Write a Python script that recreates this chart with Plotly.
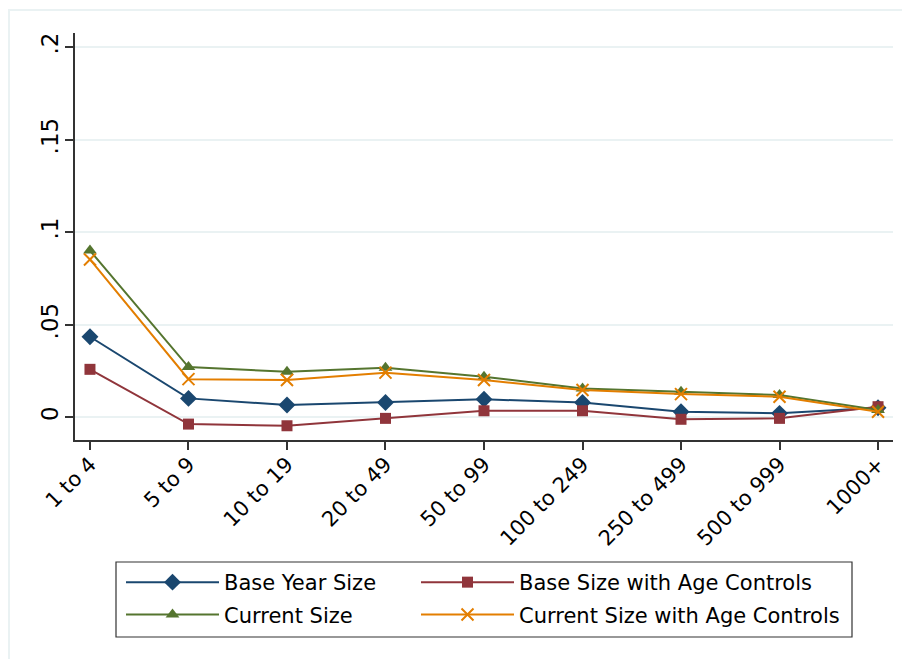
import plotly.graph_objects as go

# Firm size classes (x axis categories)
size_classes = ["1 to 4", "5 to 9", "10 to 19", "20 to 49", "50 to 99",
                "100 to 249", "250 to 499", "500 to 999", "1000+"]

# Estimated coefficients by size class
base_year_size = [0.0434, 0.0101, 0.0065, 0.0079, 0.0096, 0.0079, 0.0029, 0.0020, 0.0050]
base_size_age = [0.0258, -0.0038, -0.0047, -0.0007, 0.0034, 0.0034, -0.0012, -0.0007, 0.0056]
current_size = [0.0900, 0.0270, 0.0245, 0.0267, 0.0218, 0.0155, 0.0137, 0.0119, 0.0038]
current_size_age = [0.0852, 0.0205, 0.0200, 0.0240, 0.0200, 0.0146, 0.0124, 0.0110, 0.0029]

y_tickvals = [0, 0.05, 0.1, 0.15, 0.2]
y_ticktext = ["0", ".05", ".1", ".15", ".2"]

NAVY = "#1a476f"
MAROON = "#90353b"
GREEN = "#55752f"
ORANGE = "#e37e00"
GRID = "#eaf2f3"
AXIS = "#333333"
FONT = "DejaVu Sans, sans-serif"

x = list(range(len(size_classes)))

# (name, values, colour, marker, legend column)
series = [
    ("Base Year Size", base_year_size, NAVY, dict(symbol="diamond", size=13), "legend"),
    ("Base Size with Age Controls", base_size_age, MAROON, dict(symbol="square", size=11), "legend2"),
    ("Current Size", current_size, GREEN, dict(symbol="triangle-up", size=12), "legend"),
    ("Current Size with Age Controls", current_size_age, ORANGE,
     dict(symbol="x-thin", size=12, line=dict(width=2, color=ORANGE)), "legend2"),
]

fig = go.Figure()
for name, vals, color, marker, leg in series:
    fig.add_trace(go.Scatter(
        x=x, y=vals, name=name, mode="lines+markers",
        line=dict(color=color, width=2),
        marker=dict(color=color, **marker),
        legend=leg, legendgroup=name,
    ))

legend_common = dict(
    orientation="v", xanchor="left", y=-122 / 407, yanchor="top",
    borderwidth=0, bgcolor="rgba(0,0,0,0)", font=dict(size=21),
    itemwidth=93, tracegroupgap=2,
)

fig.update_layout(
    width=902, height=659,
    margin=dict(l=75, r=9, t=33, b=219),
    paper_bgcolor="white", plot_bgcolor="white",
    font=dict(family=FONT, size=20, color="black"),
    showlegend=True,
    legend=dict(x=46 / 818, **legend_common),
    legend2=dict(x=341 / 818, **legend_common),
    xaxis=dict(
        range=[-0.152, 8.152], tickmode="array", tickvals=x, ticktext=size_classes,
        tickangle=-45, showgrid=False, zeroline=False, showline=True,
        linecolor=AXIS, linewidth=1.5, ticks="outside", ticklen=8,
        tickcolor=AXIS, tickwidth=1.5, tickfont=dict(size=21), automargin=False,
        ticklabelstandoff=-6,
    ),
    yaxis=dict(
        range=[-0.0124, 0.2076], tickmode="array", tickvals=y_tickvals,
        ticktext=y_ticktext, tickangle=-90, showgrid=True, gridcolor=GRID,
        gridwidth=2, zeroline=False, showline=True, linecolor=AXIS,
        linewidth=1.5, ticks="outside", ticklen=8, tickcolor=AXIS,
        tickwidth=1.5, tickfont=dict(size=23), automargin=False,
        ticklabelstandoff=-2,
    ),
)

# light frame around the graph region
fig.add_shape(type="rect", xref="paper", yref="paper",
              x0=-66 / 818, x1=1.1, y0=-0.7, y1=1 + 23 / 407,
              line=dict(color=GRID, width=2), layer="below")

# box enclosing both legend columns
fig.add_shape(type="rect", xref="paper", yref="paper",
              x0=41 / 818, x1=777 / 818, y0=-197 / 407, y1=-122 / 407,
              line=dict(color=AXIS, width=1.2), fillcolor="white", layer="below")

fig.write_html("out.html")
